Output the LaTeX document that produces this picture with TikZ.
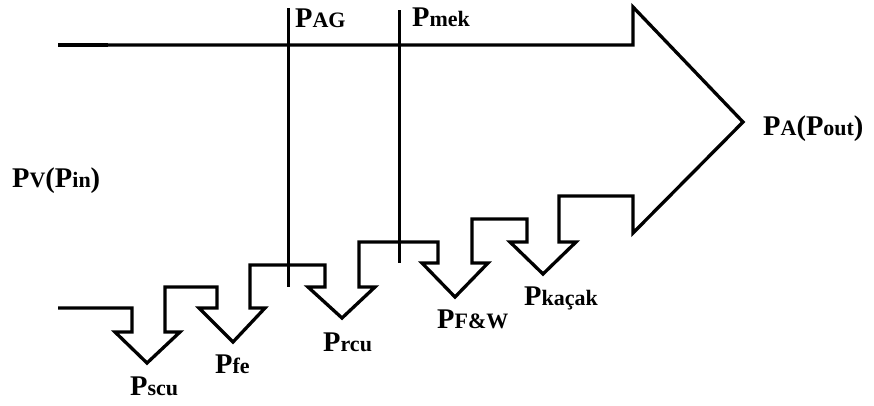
\documentclass[tikz,border=0pt]{standalone}
\usepackage{fontspec}
\setmainfont{Liberation Serif}
\begin{document}
\begin{tikzpicture}[x=1pt,y=-1pt,
  flow/.style={line width=3.3pt,line join=miter,line cap=butt},
  tap/.style={line width=3pt},
  lbl/.style={anchor=base west,inner sep=0pt,font=\bfseries\fontsize{28.5}{30}\selectfont},
]
\newcommand{\sm}[1]{{\fontsize{22}{24}\selectfont #1}}
\useasboundingbox (0,0) rectangle (874,405);

% power flow band with the loss arrows branching downwards
\draw[flow] (58,45) -- (633,45) -- (633,7) -- (743,122) -- (633,233) -- (633,196)
  -- (559,196) -- (559,242) -- (576,242) -- (543,274) -- (510,242) -- (527,242)
  -- (527,219) -- (472,219) -- (472,263) -- (488,263) -- (455,297) -- (422,263)
  -- (438,263) -- (438,242) -- (359,242) -- (359,287) -- (375,287) -- (342,318)
  -- (308,287) -- (325,287) -- (325,265) -- (250,265) -- (250,308) -- (265,308)
  -- (233,342) -- (199,308) -- (217,308) -- (217,287) -- (165,287) -- (165,332)
  -- (180,332) -- (147,363) -- (115,332) -- (132,332) -- (132,308) -- (58,308);
\draw[line width=4.2pt] (58,45) -- (108,45);

% air-gap and mechanical power cuts
\coordinate (agT) at (288,8);
\coordinate (agB) at (288,287);
\coordinate (mkT) at (399,10);
\coordinate (mkB) at (399,263);
\draw[tap] (agT) -- (agB);
\draw[tap] (mkT) -- (mkB);

% labels
\node[lbl] (pag) at (295,27) {P\sm{AG}};
\node[lbl] (pmek) at (412,26) {P\sm{mek}};
\node[lbl] (pout) at (763,135) {P\sm{A}(P\sm{out})};
\node[lbl] (pin) at (12,187) {P\sm{V}(P\sm{in})};
\node[lbl] (pscu) at (130,395) {P\sm{scu}};
\node[lbl] (pfe) at (215,373) {P\sm{fe}};
\node[lbl] (prcu) at (323,351) {P\sm{rcu}};
\node[lbl] (pfw) at (437,328) {P\sm{F\&W}};
\node[lbl] (pkac) at (524,305) {P\sm{kaçak}};
\end{tikzpicture}
\end{document}
